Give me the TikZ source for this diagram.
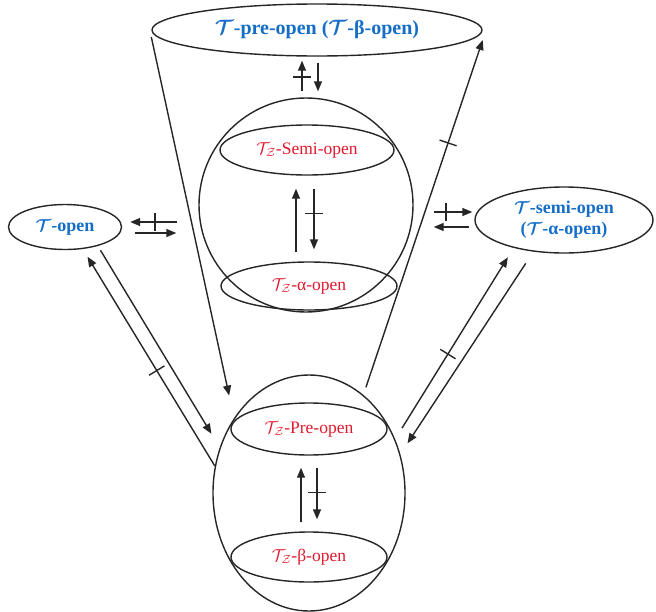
\documentclass[tikz,border=0pt]{standalone}
\usepackage{fontspec}
\setmainfont{Liberation Serif}
\usepackage{amsmath}
\usetikzlibrary{arrows.meta, shapes.geometric, decorations.markings}
\definecolor{setblue}{RGB}{20,110,200}
\definecolor{setred}{RGB}{225,25,45}

\begin{document}
\begin{tikzpicture}[x=1pt, y=-1pt, line width=1.4pt, draw=black!85,
  oval/.style={draw, ellipse, inner sep=0pt},
  outer/.style={oval, font=\fontsize{18}{21}\selectfont\bfseries\boldmath, text=setblue, align=center},
  inner/.style={oval, font=\fontsize{17.5}{20}\selectfont, text=setred},
  arr/.style={-{Triangle[length=10pt, width=8pt]}},
  cut/.style={postaction={decorate, decoration={markings,
      mark=at position #1 with {\draw[-, shorten <=0pt, shorten >=0pt] (0pt,-9pt) -- (0pt,9pt);}}}}
]
\useasboundingbox (0,0) rectangle (656,611);

% big ovals
\node[oval, minimum width=214pt, minimum height=214pt] (bigU) at (306,205) {};
\node[oval, minimum width=192pt, minimum height=236pt] (bigL) at (309,493) {};

% inner ovals
\node[inner, minimum width=174pt, minimum height=50pt] (semi) at (307,150) {$\mathcal{T}_{\mathcal{Z}}$-Semi-open};
\node[inner, minimum width=176pt, minimum height=48pt] (alpha) at (309,286) {$\mathcal{T}_{\mathcal{Z}}$-α-open};
\node[inner, minimum width=156pt, minimum height=52pt] (pre) at (309,429) {$\mathcal{T}_{\mathcal{Z}}$-Pre-open};
\node[inner, minimum width=156pt, minimum height=50pt] (beta) at (309,557) {$\mathcal{T}_{\mathcal{Z}}$-β-open};

% outer ovals
\node[outer, minimum width=330pt, minimum height=52pt, font=\fontsize{20}{23}\selectfont\bfseries\boldmath] (top) at (317,30) {$\mathcal{T}$-pre-open ($\mathcal{T}$-β-open)};
\node[outer, minimum width=113pt, minimum height=45pt] (topen) at (65,227) {$\mathcal{T}$-open};
\node[outer, minimum width=178pt, minimum height=66pt] (tsemi) at (564,220) {$\mathcal{T}$-semi-open\\($\mathcal{T}$-α-open)};

% top <-> upper circle
\draw[arr, cut=0.5, shorten <=6pt, shorten >=4pt] ([xshift=-4pt]bigU.north) -- ([xshift=-4pt]bigU.north |- top.south);
\draw[arr, shorten <=6pt, shorten >=6pt] ([xshift=12pt]bigU.north |- top.south) -- ([xshift=12pt]bigU.north);

% semi <-> alpha
\draw[arr, shorten <=9pt, shorten >=13pt] ([xshift=-13pt]alpha.north) -- ([xshift=-13pt]alpha.north |- semi.south);
\draw[arr, cut=0.44, shorten <=13pt, shorten >=12pt] ([xshift=5pt]alpha.north |- semi.south) -- ([xshift=5pt]alpha.north);

% pre <-> beta
\draw[arr, shorten <=9pt, shorten >=12pt] ([xshift=-8pt]beta.north) -- ([xshift=-8pt]beta.north |- pre.south);
\draw[arr, cut=0.49, shorten <=12pt, shorten >=12pt] ([xshift=8pt]beta.north |- pre.south) -- ([xshift=8pt]beta.north);

% T-open <-> upper circle
\draw[arr, cut=0.57, shorten <=21pt, shorten >=8pt] ([yshift=5pt]topen.east -| bigU.west) -- ([yshift=5pt]topen.east);
\draw[arr, shorten <=13pt, shorten >=22pt] ([yshift=-6pt]topen.east) -- ([yshift=-6pt]topen.east -| bigU.west);

% T-semi-open <-> upper circle
\draw[arr, cut=0.53, shorten <=20pt, shorten >=2pt] ([yshift=8pt]tsemi.west -| bigU.east) -- ([yshift=8pt]tsemi.west);
\draw[arr, shorten <=5pt, shorten >=20pt] ([yshift=-7pt]tsemi.west) -- ([yshift=-7pt]tsemi.west -| bigU.east);

% funnel
\draw[arr, shorten >=23pt] ([yshift=-7pt]top.west) -- (bigL.135);
\draw[arr, cut=0.71, shorten <=8pt] (bigL.61) -- ([yshift=-10pt]top.east);

% lower oval <-> T-open
\draw[arr, cut=0.44, shorten >=9pt] (bigL.164) -- (topen.309);
\draw[arr, shorten <=5pt, shorten >=16pt] (topen.330) -- (bigL.153);

% lower oval <-> T-semi-open
\draw[arr, cut=0.445, shorten <=13pt, shorten >=11pt] (bigL.32) -- (tsemi.209);
\draw[arr, shorten <=14pt, shorten >=13pt] (tsemi.226) -- (bigL.23);

\end{tikzpicture}
\end{document}
